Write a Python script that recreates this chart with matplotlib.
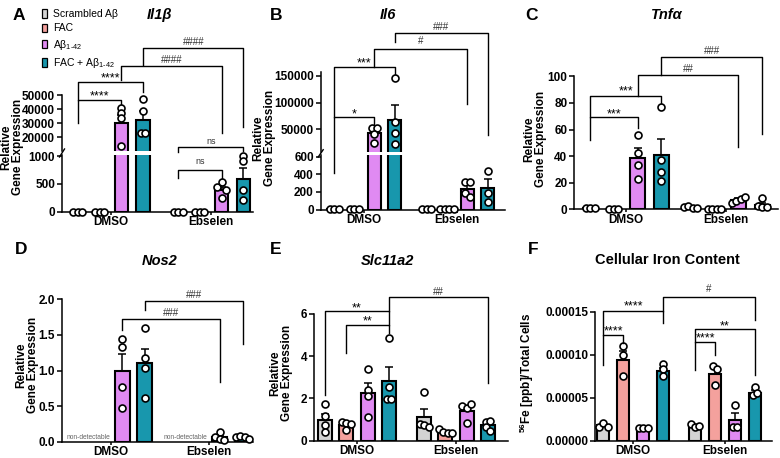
import numpy as np
import matplotlib
matplotlib.use('Agg')
import matplotlib.pyplot as plt
from matplotlib import transforms
from matplotlib.patches import Patch
from matplotlib.lines import Line2D
from matplotlib.ticker import FuncFormatter

plt.rcParams['font.family'] = ['Liberation Sans', 'DejaVu Sans']
plt.rcParams['mathtext.fontset'] = 'custom'
plt.rcParams['mathtext.rm'] = 'Liberation Sans'
plt.rcParams['mathtext.it'] = 'Liberation Sans:italic'
plt.rcParams['mathtext.bf'] = 'Liberation Sans:bold'

# ---------------- data ----------------
groups = ['DMSO', 'Ebselen']
treatments = ['Scrambled Aβ', 'FAC', r'Aβ$_{1\text{-}42}$', r'FAC + Aβ$_{1\text{-}42}$']
colors = ['#D3D3D3', '#F4A19D', '#E08AF2', '#1897AD']
nan = np.nan

# bar order: DMSO (Scr, FAC, Ab, FAC+Ab), Ebselen (Scr, FAC, Ab, FAC+Ab)
il1b_mean = [1, 1, 30000, 32300, 1, 1, 392, 585]
il1b_sem = [0, 0, 6000, 6700, 0, 0, 55, 195]
il1b_pts = [[1, 1, 1], [1, 1, 1], [40600, 37400, 33500, 13800], [47500, 38500, 22800, 22800],
            [1, 1, 1], [1, 1, 1], [450, 530, 390, 255], [1000, 910, 390, 220]]

il6_mean = [1, 1, 42500, 67300, 1, 1, 230, 240]
il6_sem = [0, 0, 6500, 28000, 0, 0, 45, 103]
il6_pts = [[1, 1, 1], [1, 1, 1], [51800, 52900, 41100, 24800], [145400, 64200, 42500, 21900],
           [1, 1, 1], [1, 1, 1, 1], [316, 318, 191, 145], [440, 190, 90]]

tnfa_mean = [1.0, 0.4, 38.5, 40.5, 1.6, 0.4, 7.2, 3.6]
tnfa_sem = [0.2, 0.05, 7.3, 12.5, 0.4, 0.05, 1.2, 1.5]
tnfa_pts = [[0.8, 1.3, 0.9], [0.3, 0.4, 0.5], [56, 42, 33, 23], [77, 37, 28, 21],
            [1.5, 2.8, 1.2, 1.0], [0.3, 0.4, 0.5, 0.4], [5, 6.5, 8, 9.5], [8.3, 2.2, 2.0, 1.9]]

nos2_mean = [nan, nan, 1.0, 1.10, nan, nan, 0.065, 0.065]
nos2_sem = [nan, nan, 0.23, 0.20, nan, nan, 0.02, 0.01]
nos2_pts = [[], [], [1.44, 1.33, 0.77, 0.47], [1.59, 1.17, 1.03, 0.61],
            [], [], [0.13, 0.06, 0.04, 0.02], [0.07, 0.08, 0.07, 0.04]]

slc_mean = [1.0, 0.75, 2.25, 2.85, 1.12, 0.43, 1.42, 0.75]
slc_sem = [0.28, 0.1, 0.47, 0.65, 0.38, 0.05, 0.2, 0.1]
slc_pts = [[1.74, 1.18, 0.74, 0.43], [0.87, 0.82, 0.78, 0.52], [3.38, 2.4, 2.1, 1.1], [4.85, 2.56, 1.98, 1.98],
           [2.29, 0.78, 0.72, 0.65], [0.54, 0.43, 0.36, 0.35], [1.64, 1.53, 1.74, 0.85], [0.9, 0.95, 0.66, 0.47]]

fe_mean = [1.8e-5, 9.4e-5, 1.5e-5, 8.1e-5, 1.75e-5, 7.8e-5, 2.4e-5, 5.6e-5]
fe_sem = [0.15e-5, 1.0e-5, 0.05e-5, 0.4e-5, 0.1e-5, 0.7e-5, 0.85e-5, 0.3e-5]
fe_pts = [[1.63e-5, 2.1e-5, 1.63e-5], [1.1e-4, 9.97e-5, 7.56e-5], [1.5e-5, 1.5e-5, 1.5e-5], [8.88e-5, 8.3e-5, 7.56e-5],
          [1.94e-5, 1.63e-5, 1.7e-5], [8.7e-5, 8.3e-5, 6.5e-5], [4.15e-5, 1.56e-5, 1.56e-5], [6.28e-5, 5.3e-5, 5.5e-5]]

il1b_ticks_low = [0, 500, 1000]
il1b_ticks_up = [20000, 30000, 40000, 50000]
il6_ticks_low = [0, 200, 400, 600]
il6_ticks_up = [50000, 100000, 150000]
tnfa_ticks = [0, 20, 40, 60, 80, 100]
nos2_ticks = [0.0, 0.5, 1.0, 1.5, 2.0]
slc_ticks = [0, 2, 4, 6]
fe_ticks = [0.0, 0.00005, 0.00010, 0.00015]

# ---------------- layout (pixels) ----------------
W, H = 780, 458
fig = plt.figure(figsize=(W / 100, H / 100), dpi=100)
pix = transforms.Affine2D().scale(1.0 / W, -1.0 / H).translate(0, 1) + fig.transFigure


def px_axes(left, top, right, bottom):
    return fig.add_axes([left / W, 1 - bottom / H, (right - left) / W, (bottom - top) / H])


def style(ax, bottom=True):
    for sp in ['top', 'right']:
        ax.spines[sp].set_visible(False)
    for sp in ['left', 'bottom']:
        ax.spines[sp].set_linewidth(1.1)
    ax.tick_params(axis='both', width=1.1, length=3.5, labelsize=8.5, pad=1.5)
    ax.tick_params(axis='x', length=2.5, pad=0.8, labelsize=8.5)
    if not bottom:
        ax.spines['bottom'].set_visible(False)
        ax.tick_params(axis='x', bottom=False, labelbottom=False)
    ax.patch.set_alpha(0)


DOT_MS = 5.0
CLUSTER_PX = 4.5
STEP_PX = 4.5


def draw_panel(L, mean, sem, pts, fmt, ticks_low, ticks_up=None, brackets=(), nd=False):
    s = L['s']
    g = L['g']
    xpos = np.array([0, 1, 2, 3, g, g + 1, g + 2, g + 3])
    xlim = ((L['left'] - L['first']) / s, (L['right'] - L['first']) / s)
    if ticks_up is not None:
        ax_lo = px_axes(L['left'], L['low_top'], L['right'], L['bottom'])
        ax_up = px_axes(L['left'], L['top'], L['right'], L['up_bottom'])
        ax_lo.set_ylim(*L['low_lim'])
        ax_up.set_ylim(*L['up_lim'])
        style(ax_lo)
        style(ax_up, bottom=False)
        axes = [ax_lo, ax_up]
        ax_up.set_yticks(ticks_up)
        ax_up.yaxis.set_major_formatter(FuncFormatter(lambda v, p: fmt.format(v)))
    else:
        ax_lo = px_axes(L['left'], L['top'], L['right'], L['bottom'])
        ax_lo.set_ylim(*L['ylim'])
        style(ax_lo)
        axes = [ax_lo]
    ax_lo.set_yticks(ticks_low)
    ax_lo.yaxis.set_major_formatter(FuncFormatter(lambda v, p: fmt.format(v)))
    for ax in axes:
        ax.set_xlim(*xlim)
        for k in range(8):
            if np.isnan(mean[k]):
                continue
            ax.bar(xpos[k], mean[k], width=L['bw'], color=colors[k % 4], edgecolor='black',
                   linewidth=1.5, zorder=2)
            ax.errorbar(xpos[k], mean[k], yerr=[[0], [sem[k]]], fmt='none', ecolor='black',
                        elinewidth=1.1, capsize=3, capthick=1.1, zorder=3)
        for lab in ax.get_yticklabels():
            lab.set_fontweight('bold')
    ax_lo.set_xticks([1.5, g + 1.5])
    ax_lo.set_xticklabels(groups, fontweight='bold')

    # dots
    for k in range(8):
        vals = np.array(pts[k], dtype=float)
        if len(vals) == 0:
            continue
        tgt = []
        for v in vals:
            if ticks_up is not None and v > L['low_lim'][1]:
                tgt.append(ax_up)
            else:
                tgt.append(ax_lo)
        ypx = np.array([a.transData.transform((0, v))[1] for a, v in zip(tgt, vals)])
        order = np.argsort(ypx)
        clusters, cur = [], [order[0]]
        for a, b in zip(order[:-1], order[1:]):
            if ypx[b] - ypx[a] < CLUSTER_PX:
                cur.append(b)
            else:
                clusters.append(cur)
                cur = [b]
        clusters.append(cur)
        offs = np.zeros(len(vals))
        for c in clusters:
            for r, idx in enumerate(sorted(c)):
                offs[idx] = (r - (len(c) - 1) / 2) * STEP_PX / s
        for a, v, o in zip(tgt, vals, offs):
            a.plot(xpos[k] + o, v, 'o', mfc='white', mec='black', ms=DOT_MS, mew=1.2,
                   clip_on=False, zorder=5)

    tr = transforms.blended_transform_factory(ax_lo.transData, pix)
    for (i, j, yh, yl, yr, lab, ty) in brackets:
        x1, x2 = xpos[i], xpos[j]
        ax_lo.add_line(Line2D([x1, x1, x2, x2], [yl, yh, yh, yr], transform=tr, color='black',
                              lw=1.0, clip_on=False, zorder=6))
        if lab.startswith('#'):
            kw = dict(fontsize=7, color='#333333')
        elif lab == 'ns':
            kw = dict(fontsize=6.5, color='#333333')
        else:
            kw = dict(fontsize=9, color='black')
            ty = ty + 2.5
        ax_lo.text((x1 + x2) / 2, ty, lab, transform=tr, ha='center', va='center',
                   clip_on=False, zorder=6, **kw)
    if nd:
        for a, b in [(0, 1), (4, 5)]:
            ax_lo.text((xpos[a] + xpos[b]) / 2, 437.5, 'non-detectable', transform=tr,
                       ha='center', va='center', fontsize=4.8, color='#666666')
    if ticks_up is not None:
        lft = L['left']
        fig.add_artist(Line2D([(lft - 2.5) / W, (lft + 2.5) / W],
                              [1 - (L['low_top'] + 2) / H, 1 - (L['up_bottom'] - 2) / H],
                              transform=fig.transFigure, color='black', lw=1.0))
    return ax_lo


LA = dict(left=62, right=253, first=78, s=21.7, g=4.62, bw=0.61, bottom=211.7, top=95,
          low_top=155, up_bottom=151, low_lim=(0, 1023), up_lim=(10300, 50000))
LB = dict(left=320.7, right=505, first=334, s=20.2, g=4.6, bw=0.65, bottom=209.5, top=71.7,
          low_top=155, up_bottom=151.7, low_lim=(0, 619), up_lim=(8000, 157800))
LC = dict(left=574.3, right=778, first=590, s=23.8, g=4.23, bw=0.63, bottom=209.3, top=76.3,
          ylim=(0, 100))
LD = dict(left=61.7, right=253, first=76.5, s=22.8, g=4.29, bw=0.66, bottom=441.7, top=299.3,
          ylim=(0, 2))
LE = dict(left=314.3, right=508, first=325, s=21.3, g=4.65, bw=0.66, bottom=440.7, top=314,
          ylim=(0, 6))
LF = dict(left=595, right=772, first=603, s=20, g=4.6, bw=0.63, bottom=440.7, top=311.7,
          ylim=(0, 0.00015))

brA = [(0, 2, 100, 123, 105, '****', 94), (0, 3, 81.7, 100, 92, '****', 76),
       (2, 6, 66, 80, 133, '####', 60), (3, 7, 48.3, 65, 126.7, '####', 42),
       (4, 6, 170, 178, 178, 'ns', 162), (4, 7, 147.3, 152, 151, 'ns', 142)]
brB = [(0, 2, 117.3, 173, 125, '*', 112), (0, 3, 66.7, 117.3, 75, '***', 61),
       (2, 6, 49.3, 66.7, 104, '#', 41), (3, 7, 32.7, 41.7, 135, '###', 27)]
brC = [(0, 2, 117.3, 140, 128.3, '***', 111.7), (0, 3, 95.7, 117.3, 103.3, '***', 89.3),
       (2, 6, 75.3, 95.7, 146.7, '##', 69), (3, 7, 57.3, 75, 134, '###', 51)]
brD = [(2, 6, 319.3, 330, 381.7, '###', 313), (3, 7, 301, 310, 344, '###', 295)]
brE = [(0, 3, 311, 395, 325, '**', 306), (1, 3, 325, 353.3, 333.3, '**', 319.3),
       (3, 7, 296.7, 311, 383.3, '##', 292)]
brF = [(0, 1, 335, 365, 342.7, '****', 329), (0, 3, 311, 335, 322.7, '****', 304),
       (3, 7, 296.7, 311, 320, '#', 289.3), (4, 5, 341.7, 370, 355, '****', 336),
       (4, 7, 329.3, 341.7, 375, '**', 324)]

draw_panel(LA, il1b_mean, il1b_sem, il1b_pts, '{:.0f}', il1b_ticks_low, il1b_ticks_up, brA)
draw_panel(LB, il6_mean, il6_sem, il6_pts, '{:.0f}', il6_ticks_low, il6_ticks_up, brB)
draw_panel(LC, tnfa_mean, tnfa_sem, tnfa_pts, '{:.0f}', tnfa_ticks, None, brC)
draw_panel(LD, nos2_mean, nos2_sem, nos2_pts, '{:.1f}', nos2_ticks, None, brD, nd=True)
draw_panel(LE, slc_mean, slc_sem, slc_pts, '{:.0f}', slc_ticks, None, brE)
draw_panel(LF, fe_mean, fe_sem, fe_pts, '{:.5f}', fe_ticks, None, brF)


def ftext(x, y, s, **kw):
    fig.text(x / W, 1 - y / H, s, ha='center', va='center', **kw)


for (x, y, t) in [(19, 15, 'A'), (276, 15, 'B'), (532, 15, 'C'),
                  (21, 249, 'D'), (275.5, 249, 'E'), (533, 249, 'F')]:
    ftext(x, y, t, fontsize=12.5, fontweight='bold')

for (x, y, t, it) in [(159, 15, 'Il1β', True), (387.5, 15, 'Il6', True), (666.5, 15, 'Tnfα', True),
                      (159.5, 261, 'Nos2', True), (387.5, 261, 'Slc11a2', True),
                      (667, 260, 'Cellular Iron Content', False)]:
    ftext(x, y, t, fontsize=10.5, fontweight='bold', fontstyle='italic' if it else 'normal')

for (x, y) in [(12, 147), (264, 138), (535, 139), (27, 365), (281, 373)]:
    ftext(x, y, 'Relative\nGene Expression', rotation=90, fontsize=8.5, fontweight='bold',
          linespacing=1.0)
ftext(527, 373, r'$^{\mathbf{56}}$Fe [ppb]/Total Cells', rotation=90, fontsize=8.5, fontweight='bold')

handles = [Patch(facecolor=c, edgecolor='black', linewidth=0.9) for c in colors]
fig.legend(handles, treatments, loc='upper left', bbox_to_anchor=(42 / W, 1 - 9 / H),
           frameon=False, fontsize=7.5, handlelength=0.45, handleheight=0.85, handletextpad=0.6,
           labelspacing=0.42, borderpad=0, borderaxespad=0)

fig.savefig('out.png', dpi=100)
